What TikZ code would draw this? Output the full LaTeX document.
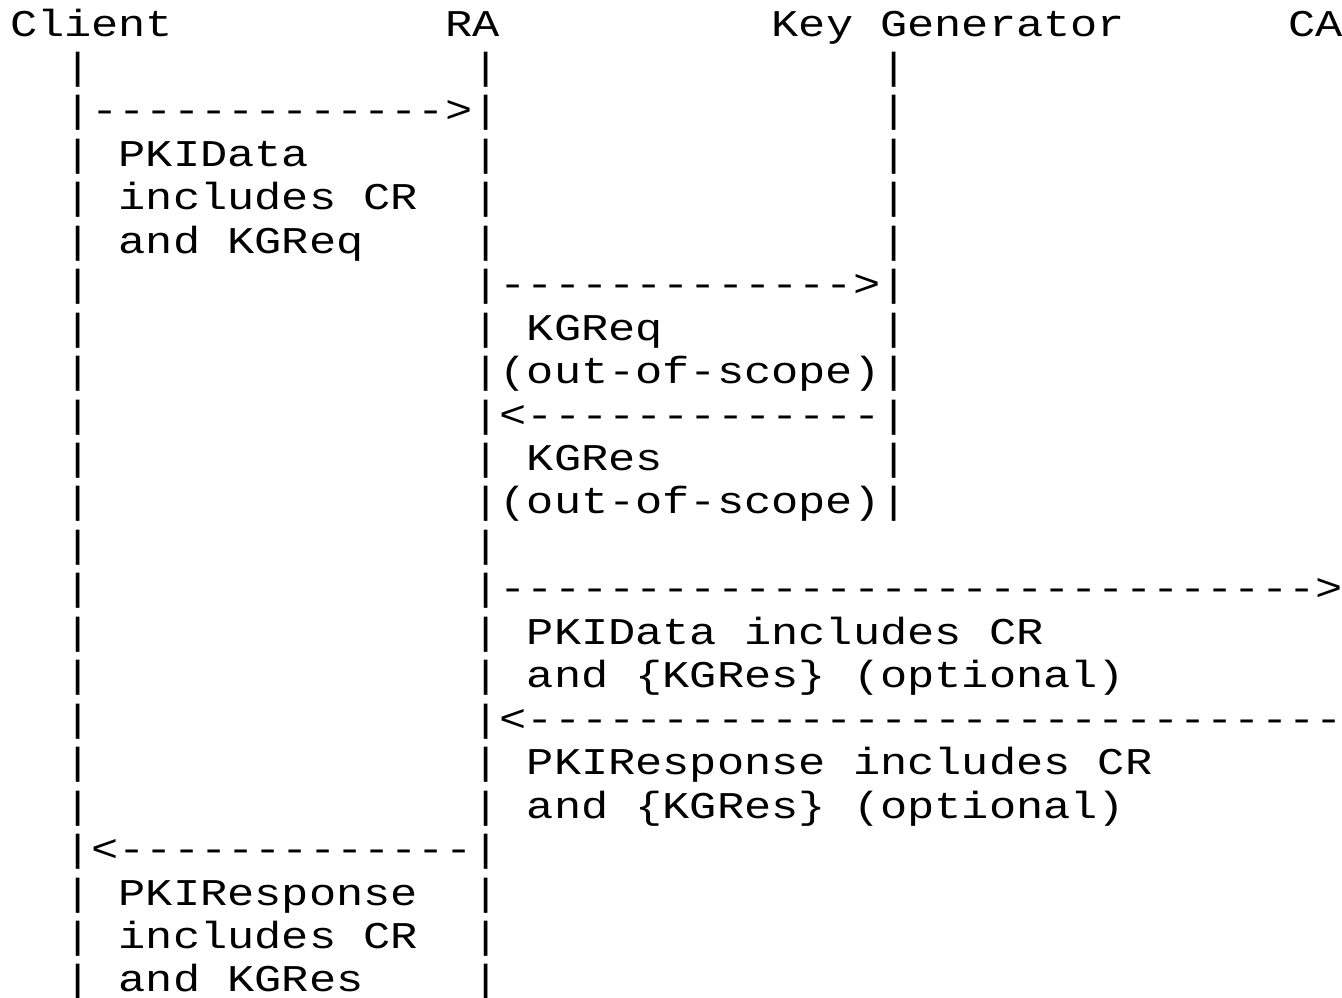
\documentclass[tikz,border=0pt]{standalone}
\usepackage{fontspec}
\setmonofont{Liberation Mono}[FakeStretch=1.2]

\tikzset{every picture/.style={line width=0.75pt}}
\tikzset{
  asc/.style={anchor=base west, inner sep=0pt, outer sep=0pt,
    font=\ttfamily\fontsize{28.33}{28.33}\selectfont},
}
\newcommand{\dashrun}[1]{\foreach \k in {1,...,#1}{-}}

\begin{document}
\begin{tikzpicture}[x=0.75pt,y=0.75pt,yscale=-1,xscale=1]
%set diagram left start at 0, width 1342 and height 997
\fill[white] (0,0) rectangle (1342,997);
\useasboundingbox (0,0) rectangle (1342,997);
\clip (0,0) rectangle (1342,997);

% Header Text Nodes
\draw (10,36) node [asc] (client) {Client};
\draw (445.2,36) node [asc] (ra) {RA};
\draw (771.6,36) node [asc] (keygen) {Key Generator};
\draw (1288.4,36) node [asc] (ca) {CA};

% Lifelines
\foreach \r in {1,...,22} {
  \draw (64.4,{36+43.45*\r}) node [asc] (clientline\r) {|};
  \draw (472.4,{36+43.45*\r}) node [asc] (raline\r) {|};
}
\foreach \r in {1,...,11} {
  \draw (880.4,{36+43.45*\r}) node [asc] (keygenline\r) {|};
}

% Client -> RA
\draw (91.6,122.9) node [asc] (req) {\dashrun{13}>};
\draw (118.8,166.35) node [asc] (reqa) {PKIData};
\draw (118.8,209.8) node [asc] (reqb) {includes CR};
\draw (118.8,253.25) node [asc] (reqc) {and KGReq};

% RA -> Key Generator
\draw (499.6,296.7) node [asc] (kgreq) {\dashrun{13}>};
\draw (526.8,340.15) node [asc] (kgreqa) {KGReq};
\draw (499.6,383.6) node [asc] (kgreqb) {(out-of-scope)};

% Key Generator -> RA
\draw (499.6,427.05) node [asc] (kgres) {<\dashrun{13}};
\draw (526.8,470.5) node [asc] (kgresa) {KGRes};
\draw (499.6,513.95) node [asc] (kgresb) {(out-of-scope)};

% RA -> CA
\draw (499.6,600.85) node [asc] (careq) {\dashrun{30}>};
\draw (526.8,644.3) node [asc] (careqa) {PKIData includes CR};
\draw (526.8,687.75) node [asc] (careqb) {and \{KGRes\} (optional)};

% CA -> RA
\draw (499.6,731.2) node [asc] (cares) {<\dashrun{30}};
\draw (526.8,774.65) node [asc] (caresa) {PKIResponse includes CR};
\draw (526.8,818.1) node [asc] (caresb) {and \{KGRes\} (optional)};

% RA -> Client
\draw (91.6,861.55) node [asc] (res) {<\dashrun{13}};
\draw (118.8,905) node [asc] (resa) {PKIResponse};
\draw (118.8,948.45) node [asc] (resb) {includes CR};
\draw (118.8,991.9) node [asc] (resc) {and KGRes};

\end{tikzpicture}
\end{document}
